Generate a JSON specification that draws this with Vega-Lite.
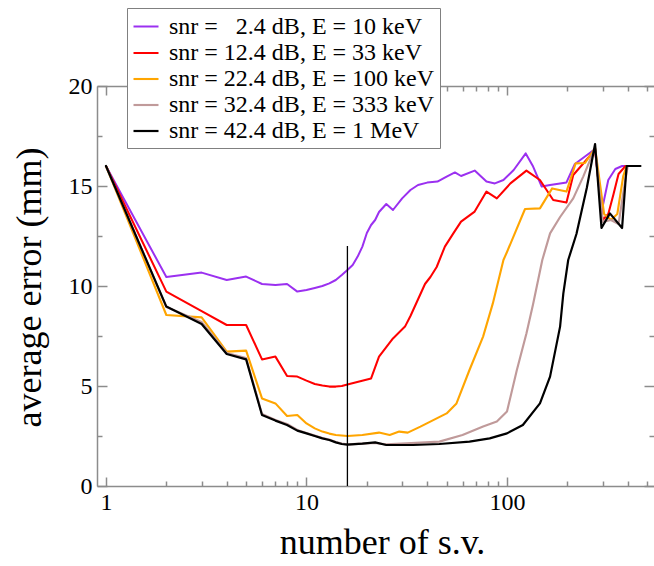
{
  "$schema": "https://vega.github.io/schema/vega-lite/v6.json",
  "width": 557,
  "height": 400,
  "autosize": {"type": "none"},
  "padding": {"left": 97, "top": 86, "right": 0, "bottom": 80},
  "background": "white",
  "config": {
    "view": {"stroke": null},
    "font": "Liberation Serif",
    "axis": {
      "grid": false,
      "domain": false,
      "labelFont": "Liberation Serif",
      "labelColor": "black",
      "labelFontSize": 24,
      "titleFont": "Liberation Serif",
      "titleColor": "black",
      "titleFontWeight": "normal",
      "tickColor": "#8c8c8c",
      "tickWidth": 1.5,
      "domainColor": "#8c8c8c",
      "domainWidth": 1.5
    }
  },
  "datasets": {
    "curves": [
      {"series": "snr = \u00a0\u00a02.4 dB, E = 10 keV", "x": 1, "y": 16.0},
      {"series": "snr = \u00a0\u00a02.4 dB, E = 10 keV", "x": 2, "y": 10.45},
      {"series": "snr = \u00a0\u00a02.4 dB, E = 10 keV", "x": 3, "y": 10.67},
      {"series": "snr = \u00a0\u00a02.4 dB, E = 10 keV", "x": 4, "y": 10.3},
      {"series": "snr = \u00a0\u00a02.4 dB, E = 10 keV", "x": 5, "y": 10.47},
      {"series": "snr = \u00a0\u00a02.4 dB, E = 10 keV", "x": 6, "y": 10.1},
      {"series": "snr = \u00a0\u00a02.4 dB, E = 10 keV", "x": 7, "y": 10.05},
      {"series": "snr = \u00a0\u00a02.4 dB, E = 10 keV", "x": 8, "y": 10.1},
      {"series": "snr = \u00a0\u00a02.4 dB, E = 10 keV", "x": 9, "y": 9.72},
      {"series": "snr = \u00a0\u00a02.4 dB, E = 10 keV", "x": 10, "y": 9.8},
      {"series": "snr = \u00a0\u00a02.4 dB, E = 10 keV", "x": 11, "y": 9.9},
      {"series": "snr = \u00a0\u00a02.4 dB, E = 10 keV", "x": 12, "y": 10.0},
      {"series": "snr = \u00a0\u00a02.4 dB, E = 10 keV", "x": 13, "y": 10.13},
      {"series": "snr = \u00a0\u00a02.4 dB, E = 10 keV", "x": 14, "y": 10.3},
      {"series": "snr = \u00a0\u00a02.4 dB, E = 10 keV", "x": 15, "y": 10.55},
      {"series": "snr = \u00a0\u00a02.4 dB, E = 10 keV", "x": 16, "y": 10.8},
      {"series": "snr = \u00a0\u00a02.4 dB, E = 10 keV", "x": 17, "y": 11.05},
      {"series": "snr = \u00a0\u00a02.4 dB, E = 10 keV", "x": 18, "y": 11.47},
      {"series": "snr = \u00a0\u00a02.4 dB, E = 10 keV", "x": 19, "y": 11.97},
      {"series": "snr = \u00a0\u00a02.4 dB, E = 10 keV", "x": 20, "y": 12.65},
      {"series": "snr = \u00a0\u00a02.4 dB, E = 10 keV", "x": 21, "y": 13.05},
      {"series": "snr = \u00a0\u00a02.4 dB, E = 10 keV", "x": 22, "y": 13.3},
      {"series": "snr = \u00a0\u00a02.4 dB, E = 10 keV", "x": 23, "y": 13.7},
      {"series": "snr = \u00a0\u00a02.4 dB, E = 10 keV", "x": 25, "y": 14.1},
      {"series": "snr = \u00a0\u00a02.4 dB, E = 10 keV", "x": 27, "y": 13.8},
      {"series": "snr = \u00a0\u00a02.4 dB, E = 10 keV", "x": 30, "y": 14.38},
      {"series": "snr = \u00a0\u00a02.4 dB, E = 10 keV", "x": 33, "y": 14.8},
      {"series": "snr = \u00a0\u00a02.4 dB, E = 10 keV", "x": 36, "y": 15.05},
      {"series": "snr = \u00a0\u00a02.4 dB, E = 10 keV", "x": 40, "y": 15.17},
      {"series": "snr = \u00a0\u00a02.4 dB, E = 10 keV", "x": 45, "y": 15.22},
      {"series": "snr = \u00a0\u00a02.4 dB, E = 10 keV", "x": 50, "y": 15.47},
      {"series": "snr = \u00a0\u00a02.4 dB, E = 10 keV", "x": 55, "y": 15.68},
      {"series": "snr = \u00a0\u00a02.4 dB, E = 10 keV", "x": 59, "y": 15.5},
      {"series": "snr = \u00a0\u00a02.4 dB, E = 10 keV", "x": 69, "y": 15.77},
      {"series": "snr = \u00a0\u00a02.4 dB, E = 10 keV", "x": 79, "y": 15.22},
      {"series": "snr = \u00a0\u00a02.4 dB, E = 10 keV", "x": 87, "y": 15.13},
      {"series": "snr = \u00a0\u00a02.4 dB, E = 10 keV", "x": 96, "y": 15.3},
      {"series": "snr = \u00a0\u00a02.4 dB, E = 10 keV", "x": 108, "y": 15.8},
      {"series": "snr = \u00a0\u00a02.4 dB, E = 10 keV", "x": 124, "y": 16.63},
      {"series": "snr = \u00a0\u00a02.4 dB, E = 10 keV", "x": 135, "y": 15.97},
      {"series": "snr = \u00a0\u00a02.4 dB, E = 10 keV", "x": 149, "y": 14.97},
      {"series": "snr = \u00a0\u00a02.4 dB, E = 10 keV", "x": 164, "y": 15.05},
      {"series": "snr = \u00a0\u00a02.4 dB, E = 10 keV", "x": 184, "y": 15.13},
      {"series": "snr = \u00a0\u00a02.4 dB, E = 10 keV", "x": 198, "y": 15.18},
      {"series": "snr = \u00a0\u00a02.4 dB, E = 10 keV", "x": 218, "y": 16.1},
      {"series": "snr = \u00a0\u00a02.4 dB, E = 10 keV", "x": 275, "y": 16.85},
      {"series": "snr = \u00a0\u00a02.4 dB, E = 10 keV", "x": 296, "y": 13.7},
      {"series": "snr = \u00a0\u00a02.4 dB, E = 10 keV", "x": 320, "y": 15.3},
      {"series": "snr = \u00a0\u00a02.4 dB, E = 10 keV", "x": 347, "y": 15.85},
      {"series": "snr = \u00a0\u00a02.4 dB, E = 10 keV", "x": 375, "y": 16.0},
      {"series": "snr = \u00a0\u00a02.4 dB, E = 10 keV", "x": 398, "y": 16.0},

      {"series": "snr = 12.4 dB, E = 33 keV", "x": 1, "y": 16.0},
      {"series": "snr = 12.4 dB, E = 33 keV", "x": 2, "y": 9.72},
      {"series": "snr = 12.4 dB, E = 33 keV", "x": 3, "y": 8.74},
      {"series": "snr = 12.4 dB, E = 33 keV", "x": 4, "y": 8.05},
      {"series": "snr = 12.4 dB, E = 33 keV", "x": 5, "y": 8.05},
      {"series": "snr = 12.4 dB, E = 33 keV", "x": 6, "y": 6.33},
      {"series": "snr = 12.4 dB, E = 33 keV", "x": 7, "y": 6.47},
      {"series": "snr = 12.4 dB, E = 33 keV", "x": 8, "y": 5.5},
      {"series": "snr = 12.4 dB, E = 33 keV", "x": 9, "y": 5.47},
      {"series": "snr = 12.4 dB, E = 33 keV", "x": 10, "y": 5.27},
      {"series": "snr = 12.4 dB, E = 33 keV", "x": 11, "y": 5.1},
      {"series": "snr = 12.4 dB, E = 33 keV", "x": 12, "y": 5.02},
      {"series": "snr = 12.4 dB, E = 33 keV", "x": 13, "y": 4.97},
      {"series": "snr = 12.4 dB, E = 33 keV", "x": 14, "y": 4.97},
      {"series": "snr = 12.4 dB, E = 33 keV", "x": 15, "y": 5.0},
      {"series": "snr = 12.4 dB, E = 33 keV", "x": 16, "y": 5.08},
      {"series": "snr = 12.4 dB, E = 33 keV", "x": 21, "y": 5.38},
      {"series": "snr = 12.4 dB, E = 33 keV", "x": 23, "y": 6.47},
      {"series": "snr = 12.4 dB, E = 33 keV", "x": 27, "y": 7.38},
      {"series": "snr = 12.4 dB, E = 33 keV", "x": 31, "y": 7.97},
      {"series": "snr = 12.4 dB, E = 33 keV", "x": 33, "y": 8.5},
      {"series": "snr = 12.4 dB, E = 33 keV", "x": 39, "y": 10.1},
      {"series": "snr = 12.4 dB, E = 33 keV", "x": 41.5, "y": 10.45},
      {"series": "snr = 12.4 dB, E = 33 keV", "x": 44.6, "y": 10.95},
      {"series": "snr = 12.4 dB, E = 33 keV", "x": 49, "y": 11.97},
      {"series": "snr = 12.4 dB, E = 33 keV", "x": 54, "y": 12.63},
      {"series": "snr = 12.4 dB, E = 33 keV", "x": 59, "y": 13.22},
      {"series": "snr = 12.4 dB, E = 33 keV", "x": 69, "y": 13.72},
      {"series": "snr = 12.4 dB, E = 33 keV", "x": 79, "y": 14.72},
      {"series": "snr = 12.4 dB, E = 33 keV", "x": 89, "y": 14.38},
      {"series": "snr = 12.4 dB, E = 33 keV", "x": 104, "y": 15.13},
      {"series": "snr = 12.4 dB, E = 33 keV", "x": 125, "y": 15.77},
      {"series": "snr = 12.4 dB, E = 33 keV", "x": 146, "y": 15.3},
      {"series": "snr = 12.4 dB, E = 33 keV", "x": 170, "y": 14.3},
      {"series": "snr = 12.4 dB, E = 33 keV", "x": 198, "y": 14.17},
      {"series": "snr = 12.4 dB, E = 33 keV", "x": 214, "y": 15.55},
      {"series": "snr = 12.4 dB, E = 33 keV", "x": 275, "y": 16.8},
      {"series": "snr = 12.4 dB, E = 33 keV", "x": 300, "y": 13.3},
      {"series": "snr = 12.4 dB, E = 33 keV", "x": 320, "y": 13.6},
      {"series": "snr = 12.4 dB, E = 33 keV", "x": 340, "y": 14.6},
      {"series": "snr = 12.4 dB, E = 33 keV", "x": 360, "y": 15.6},
      {"series": "snr = 12.4 dB, E = 33 keV", "x": 390, "y": 16.0},

      {"series": "snr = 22.4 dB, E = 100 keV", "x": 1, "y": 16.0},
      {"series": "snr = 22.4 dB, E = 100 keV", "x": 2, "y": 8.55},
      {"series": "snr = 22.4 dB, E = 100 keV", "x": 3, "y": 8.43},
      {"series": "snr = 22.4 dB, E = 100 keV", "x": 4, "y": 6.72},
      {"series": "snr = 22.4 dB, E = 100 keV", "x": 5, "y": 6.77},
      {"series": "snr = 22.4 dB, E = 100 keV", "x": 6, "y": 4.38},
      {"series": "snr = 22.4 dB, E = 100 keV", "x": 7, "y": 4.13},
      {"series": "snr = 22.4 dB, E = 100 keV", "x": 8, "y": 3.5},
      {"series": "snr = 22.4 dB, E = 100 keV", "x": 9, "y": 3.55},
      {"series": "snr = 22.4 dB, E = 100 keV", "x": 10, "y": 3.13},
      {"series": "snr = 22.4 dB, E = 100 keV", "x": 11, "y": 2.88},
      {"series": "snr = 22.4 dB, E = 100 keV", "x": 12, "y": 2.72},
      {"series": "snr = 22.4 dB, E = 100 keV", "x": 13, "y": 2.62},
      {"series": "snr = 22.4 dB, E = 100 keV", "x": 14, "y": 2.55},
      {"series": "snr = 22.4 dB, E = 100 keV", "x": 16, "y": 2.5},
      {"series": "snr = 22.4 dB, E = 100 keV", "x": 19, "y": 2.55},
      {"series": "snr = 22.4 dB, E = 100 keV", "x": 23, "y": 2.67},
      {"series": "snr = 22.4 dB, E = 100 keV", "x": 26, "y": 2.55},
      {"series": "snr = 22.4 dB, E = 100 keV", "x": 29, "y": 2.72},
      {"series": "snr = 22.4 dB, E = 100 keV", "x": 32, "y": 2.67},
      {"series": "snr = 22.4 dB, E = 100 keV", "x": 37, "y": 2.97},
      {"series": "snr = 22.4 dB, E = 100 keV", "x": 50, "y": 3.63},
      {"series": "snr = 22.4 dB, E = 100 keV", "x": 56, "y": 4.13},
      {"series": "snr = 22.4 dB, E = 100 keV", "x": 65, "y": 5.8},
      {"series": "snr = 22.4 dB, E = 100 keV", "x": 76, "y": 7.47},
      {"series": "snr = 22.4 dB, E = 100 keV", "x": 85, "y": 9.13},
      {"series": "snr = 22.4 dB, E = 100 keV", "x": 96, "y": 11.3},
      {"series": "snr = 22.4 dB, E = 100 keV", "x": 100, "y": 11.7},
      {"series": "snr = 22.4 dB, E = 100 keV", "x": 123, "y": 13.85},
      {"series": "snr = 22.4 dB, E = 100 keV", "x": 146, "y": 13.88},
      {"series": "snr = 22.4 dB, E = 100 keV", "x": 168, "y": 14.88},
      {"series": "snr = 22.4 dB, E = 100 keV", "x": 198, "y": 14.72},
      {"series": "snr = 22.4 dB, E = 100 keV", "x": 220, "y": 16.13},
      {"series": "snr = 22.4 dB, E = 100 keV", "x": 245, "y": 16.15},
      {"series": "snr = 22.4 dB, E = 100 keV", "x": 275, "y": 16.9},
      {"series": "snr = 22.4 dB, E = 100 keV", "x": 305, "y": 13.6},
      {"series": "snr = 22.4 dB, E = 100 keV", "x": 330, "y": 13.3},
      {"series": "snr = 22.4 dB, E = 100 keV", "x": 355, "y": 13.6},
      {"series": "snr = 22.4 dB, E = 100 keV", "x": 380, "y": 15.5},
      {"series": "snr = 22.4 dB, E = 100 keV", "x": 395, "y": 16.0},

      {"series": "snr = 32.4 dB, E = 333 keV", "x": 1, "y": 16.0},
      {"series": "snr = 32.4 dB, E = 333 keV", "x": 2, "y": 8.95},
      {"series": "snr = 32.4 dB, E = 333 keV", "x": 3, "y": 8.2},
      {"series": "snr = 32.4 dB, E = 333 keV", "x": 4, "y": 6.65},
      {"series": "snr = 32.4 dB, E = 333 keV", "x": 5, "y": 6.4},
      {"series": "snr = 32.4 dB, E = 333 keV", "x": 6, "y": 3.6},
      {"series": "snr = 32.4 dB, E = 333 keV", "x": 7, "y": 3.3},
      {"series": "snr = 32.4 dB, E = 333 keV", "x": 8, "y": 3.1},
      {"series": "snr = 32.4 dB, E = 333 keV", "x": 9, "y": 2.8},
      {"series": "snr = 32.4 dB, E = 333 keV", "x": 10, "y": 2.65},
      {"series": "snr = 32.4 dB, E = 333 keV", "x": 11, "y": 2.52},
      {"series": "snr = 32.4 dB, E = 333 keV", "x": 12, "y": 2.4},
      {"series": "snr = 32.4 dB, E = 333 keV", "x": 13, "y": 2.32},
      {"series": "snr = 32.4 dB, E = 333 keV", "x": 14, "y": 2.2},
      {"series": "snr = 32.4 dB, E = 333 keV", "x": 15, "y": 2.12},
      {"series": "snr = 32.4 dB, E = 333 keV", "x": 16, "y": 2.08},
      {"series": "snr = 32.4 dB, E = 333 keV", "x": 19, "y": 2.12},
      {"series": "snr = 32.4 dB, E = 333 keV", "x": 22, "y": 2.15},
      {"series": "snr = 32.4 dB, E = 333 keV", "x": 25, "y": 2.08},
      {"series": "snr = 32.4 dB, E = 333 keV", "x": 31.5, "y": 2.13},
      {"series": "snr = 32.4 dB, E = 333 keV", "x": 46, "y": 2.22},
      {"series": "snr = 32.4 dB, E = 333 keV", "x": 60, "y": 2.55},
      {"series": "snr = 32.4 dB, E = 333 keV", "x": 76, "y": 2.97},
      {"series": "snr = 32.4 dB, E = 333 keV", "x": 89, "y": 3.22},
      {"series": "snr = 32.4 dB, E = 333 keV", "x": 100, "y": 3.72},
      {"series": "snr = 32.4 dB, E = 333 keV", "x": 112, "y": 5.8},
      {"series": "snr = 32.4 dB, E = 333 keV", "x": 125, "y": 7.63},
      {"series": "snr = 32.4 dB, E = 333 keV", "x": 135, "y": 9.1},
      {"series": "snr = 32.4 dB, E = 333 keV", "x": 150, "y": 11.3},
      {"series": "snr = 32.4 dB, E = 333 keV", "x": 164, "y": 12.63},
      {"series": "snr = 32.4 dB, E = 333 keV", "x": 184, "y": 13.45},
      {"series": "snr = 32.4 dB, E = 333 keV", "x": 214, "y": 14.38},
      {"series": "snr = 32.4 dB, E = 333 keV", "x": 240, "y": 15.47},
      {"series": "snr = 32.4 dB, E = 333 keV", "x": 275, "y": 16.9},
      {"series": "snr = 32.4 dB, E = 333 keV", "x": 300, "y": 13.2},
      {"series": "snr = 32.4 dB, E = 333 keV", "x": 330, "y": 13.3},
      {"series": "snr = 32.4 dB, E = 333 keV", "x": 360, "y": 13.1},
      {"series": "snr = 32.4 dB, E = 333 keV", "x": 385, "y": 15.0},
      {"series": "snr = 32.4 dB, E = 333 keV", "x": 400, "y": 16.0},

      {"series": "snr = 42.4 dB, E = 1 MeV", "x": 1, "y": 16.0},
      {"series": "snr = 42.4 dB, E = 1 MeV", "x": 2, "y": 8.97},
      {"series": "snr = 42.4 dB, E = 1 MeV", "x": 3, "y": 8.1},
      {"series": "snr = 42.4 dB, E = 1 MeV", "x": 4, "y": 6.6},
      {"series": "snr = 42.4 dB, E = 1 MeV", "x": 5, "y": 6.33},
      {"series": "snr = 42.4 dB, E = 1 MeV", "x": 6, "y": 3.55},
      {"series": "snr = 42.4 dB, E = 1 MeV", "x": 7, "y": 3.27},
      {"series": "snr = 42.4 dB, E = 1 MeV", "x": 8, "y": 3.05},
      {"series": "snr = 42.4 dB, E = 1 MeV", "x": 9, "y": 2.77},
      {"series": "snr = 42.4 dB, E = 1 MeV", "x": 10, "y": 2.63},
      {"series": "snr = 42.4 dB, E = 1 MeV", "x": 11, "y": 2.5},
      {"series": "snr = 42.4 dB, E = 1 MeV", "x": 12, "y": 2.38},
      {"series": "snr = 42.4 dB, E = 1 MeV", "x": 13, "y": 2.3},
      {"series": "snr = 42.4 dB, E = 1 MeV", "x": 14, "y": 2.18},
      {"series": "snr = 42.4 dB, E = 1 MeV", "x": 15, "y": 2.1},
      {"series": "snr = 42.4 dB, E = 1 MeV", "x": 16, "y": 2.07},
      {"series": "snr = 42.4 dB, E = 1 MeV", "x": 19, "y": 2.12},
      {"series": "snr = 42.4 dB, E = 1 MeV", "x": 22, "y": 2.18},
      {"series": "snr = 42.4 dB, E = 1 MeV", "x": 25, "y": 2.05},
      {"series": "snr = 42.4 dB, E = 1 MeV", "x": 34, "y": 2.05},
      {"series": "snr = 42.4 dB, E = 1 MeV", "x": 46, "y": 2.1},
      {"series": "snr = 42.4 dB, E = 1 MeV", "x": 65, "y": 2.22},
      {"series": "snr = 42.4 dB, E = 1 MeV", "x": 82, "y": 2.38},
      {"series": "snr = 42.4 dB, E = 1 MeV", "x": 100, "y": 2.63},
      {"series": "snr = 42.4 dB, E = 1 MeV", "x": 120, "y": 3.05},
      {"series": "snr = 42.4 dB, E = 1 MeV", "x": 146, "y": 4.13},
      {"series": "snr = 42.4 dB, E = 1 MeV", "x": 164, "y": 5.47},
      {"series": "snr = 42.4 dB, E = 1 MeV", "x": 184, "y": 7.97},
      {"series": "snr = 42.4 dB, E = 1 MeV", "x": 191, "y": 9.63},
      {"series": "snr = 42.4 dB, E = 1 MeV", "x": 202, "y": 11.3},
      {"series": "snr = 42.4 dB, E = 1 MeV", "x": 222, "y": 12.6},
      {"series": "snr = 42.4 dB, E = 1 MeV", "x": 250, "y": 14.9},
      {"series": "snr = 42.4 dB, E = 1 MeV", "x": 275, "y": 17.1},
      {"series": "snr = 42.4 dB, E = 1 MeV", "x": 296, "y": 12.9},
      {"series": "snr = 42.4 dB, E = 1 MeV", "x": 326, "y": 13.63},
      {"series": "snr = 42.4 dB, E = 1 MeV", "x": 375, "y": 12.9},
      {"series": "snr = 42.4 dB, E = 1 MeV", "x": 395, "y": 16.0},
      {"series": "snr = 42.4 dB, E = 1 MeV", "x": 463, "y": 16.0}
    ],
    "marker": [{"x": 16, "y": 0, "y2": 12}]
  },
  "resolve": {"axis": {"x": "independent", "y": "independent"}},
  "layer": [
    {
      "data": {"name": "curves"},
      "mark": {"type": "line", "strokeJoin": "round", "strokeCap": "round"},
      "encoding": {
        "x": {
          "field": "x", "type": "quantitative",
          "scale": {"type": "log", "domain": [0.902, 541], "nice": false},
          "axis": {
            "orient": "bottom", "values": [1, 10, 100], "ticks": false,
            "domain": true, "labelPadding": 4, "format": "d",
            "title": "number of s.v.", "titleFontSize": 36,
            "titleX": 285, "titleY": 67, "titleAlign": "center", "titleBaseline": "alphabetic"
          }
        },
        "y": {
          "field": "y", "type": "quantitative",
          "scale": {"domain": [0, 20], "nice": false, "zero": false},
          "axis": {
            "orient": "left", "values": [0, 5, 10, 15, 20], "ticks": false,
            "domain": true, "labelPadding": 5,
            "title": "average error (mm)", "titleFontSize": 36,
            "titleX": -68, "titleY": 201, "titleAngle": -90,
            "titleAlign": "center", "titleBaseline": "middle"
          }
        },
        "color": {
          "field": "series", "type": "nominal",
          "scale": {
            "domain": ["snr = \u00a0\u00a02.4 dB, E = 10 keV", "snr = 12.4 dB, E = 33 keV", "snr = 22.4 dB, E = 100 keV", "snr = 32.4 dB, E = 333 keV", "snr = 42.4 dB, E = 1 MeV"],
            "range": ["#9b30f0", "#ff0000", "#ffa500", "#c09a9a", "#000000"]
          },
          "legend": {
            "orient": "none", "legendX": 30, "legendY": -78,
            "title": null, "symbolType": "stroke", "symbolSize": 625,
            "symbolStrokeWidth": 2.5,
            "labelFont": "Liberation Serif", "labelFontSize": 24, "labelColor": "black",
            "labelLimit": 400, "labelOffset": 9,
            "strokeColor": "#808080", "fillColor": "white",
            "padding": 5, "rowPadding": -1.5,
            "encode": {
              "symbols": {"update": {"strokeWidth": {"signal": "indexof(datum.value, '42.4') >= 0 ? 4 : 2.5"}}}
            }
          }
        },
        "strokeWidth": {
          "field": "series", "type": "nominal",
          "scale": {
            "domain": ["snr = \u00a0\u00a02.4 dB, E = 10 keV", "snr = 12.4 dB, E = 33 keV", "snr = 22.4 dB, E = 100 keV", "snr = 32.4 dB, E = 333 keV", "snr = 42.4 dB, E = 1 MeV"],
            "range": [2, 2.2, 2.2, 2.2, 3.6]
          },
          "legend": null
        }
      }
    },
    {
      "data": {"name": "marker"},
      "mark": {"type": "rule", "color": "black", "strokeWidth": 1.3},
      "encoding": {
        "x": {
          "field": "x", "type": "quantitative",
          "axis": {"orient": "bottom", "values": [1, 10, 100], "labels": false, "tickSize": 9, "offset": -9, "title": null}
        },
        "y": {
          "field": "y", "type": "quantitative",
          "axis": {"orient": "left", "values": [0, 5, 10, 15, 20], "labels": false, "tickSize": 10, "offset": -10, "title": null}
        },
        "y2": {"field": "y2"}
      }
    },
    {
      "data": {"name": "marker"},
      "mark": {"type": "point", "opacity": 0},
      "encoding": {
        "x": {
          "field": "x", "type": "quantitative",
          "axis": {"orient": "bottom", "values": [2, 3, 4, 5, 6, 7, 8, 9, 20, 30, 40, 50, 60, 70, 80, 90, 200, 300, 400, 500], "labels": false, "tickSize": 5, "offset": -5, "title": null}
        },
        "y": {
          "field": "y", "type": "quantitative",
          "axis": {"orient": "left", "values": [2.5, 7.5, 12.5, 17.5], "labels": false, "tickSize": 5, "offset": -5, "title": null}
        }
      }
    },
    {
      "data": {"name": "marker"},
      "mark": {"type": "point", "opacity": 0},
      "encoding": {
        "x": {
          "field": "x", "type": "quantitative",
          "axis": {"orient": "top", "values": [1, 10, 100], "labels": false, "tickSize": 9, "offset": -9, "title": null}
        },
        "y": {
          "field": "y", "type": "quantitative",
          "axis": {"orient": "right", "values": [0, 5, 10, 15, 20], "labels": false, "tickSize": 10, "offset": -10, "title": null}
        }
      }
    },
    {
      "data": {"name": "marker"},
      "mark": {"type": "point", "opacity": 0},
      "encoding": {
        "x": {
          "field": "x", "type": "quantitative",
          "axis": {"orient": "top", "values": [2, 3, 4, 5, 6, 7, 8, 9, 20, 30, 40, 50, 60, 70, 80, 90, 200, 300, 400, 500], "labels": false, "tickSize": 5, "offset": -5, "title": null}
        },
        "y": {
          "field": "y", "type": "quantitative",
          "axis": {"orient": "right", "values": [2.5, 7.5, 12.5, 17.5], "labels": false, "tickSize": 5, "offset": -5, "title": null}
        }
      }
    },
    {
      "data": {"name": "marker"},
      "mark": {"type": "point", "opacity": 0},
      "encoding": {
        "x": {
          "field": "x", "type": "quantitative",
          "axis": {"orient": "top", "ticks": false, "labels": false, "domain": true, "title": null}
        }
      }
    }
  ]
}
